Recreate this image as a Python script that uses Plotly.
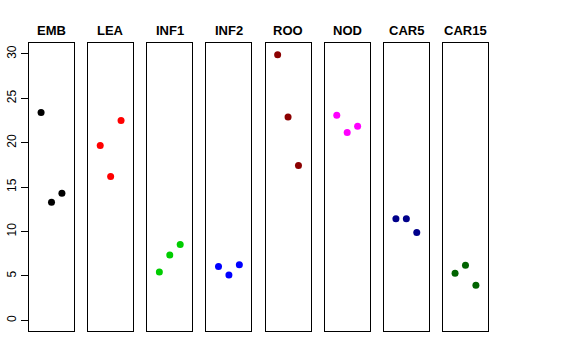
import plotly.graph_objects as go

groups = ["EMB", "LEA", "INF1", "INF2", "ROO", "NOD", "CAR5", "CAR15"]
x_pos = [1, 2, 3]
values = {
    "EMB":   [23.4, 13.3, 14.3],
    "LEA":   [19.7, 16.2, 22.5],
    "INF1":  [5.45, 7.35, 8.55],
    "INF2":  [6.05, 5.1, 6.25],
    "ROO":   [29.9, 22.9, 17.45],
    "NOD":   [23.1, 21.15, 21.85],
    "CAR5":  [11.45, 11.45, 9.9],
    "CAR15": [5.3, 6.2, 3.95],
}
colors = ["#000000", "#FF0000", "#00CD00", "#0000FF", "#8B0000", "#FF00FF", "#00008B", "#006400"]
y_ticks = [0, 5, 10, 15, 20, 25, 30]

W, H = 576, 360
x0_px = 29.0
panel_w = 45.0
step = 59.14
top_px, bot_px = 43.3, 331.0
ydom = [(H - bot_px) / H, (H - top_px) / H]

fig = go.Figure()
for i, g in enumerate(groups):
    idx = "" if i == 0 else str(i + 1)
    left = x0_px + step * i
    dom = [left / W, (left + panel_w) / W]
    fig.add_trace(go.Scatter(
        x=x_pos, y=values[g], mode="markers",
        marker=dict(color=colors[i], size=7, line=dict(width=0)),
        xaxis="x" + idx, yaxis="y" + idx, showlegend=False,
        hoverinfo="skip"))
    fig.update_layout(**{
        "xaxis" + idx: dict(domain=dom, range=[-0.16, 4.16], showline=True, mirror=True,
                            linecolor="black", linewidth=1, showgrid=False, zeroline=False,
                            showticklabels=False, ticks="", anchor="y" + idx, automargin=False),
        "yaxis" + idx: dict(domain=ydom, range=[-1.2, 31.2], showline=True, mirror=True,
                            linecolor="black", linewidth=1, showgrid=False, zeroline=False,
                            anchor="x" + idx, automargin=False,
                            **({} if i == 0 else {"matches": "y", "showticklabels": False, "ticks": ""})),
    })
    fig.add_annotation(x=(dom[0] + dom[1]) / 2, xref="paper", xanchor="center",
                       y=(H - 30.0) / H, yref="paper", yanchor="middle",
                       text="<b>%s</b>" % g, showarrow=False,
                       font=dict(size=13, color="black", family="Liberation Sans, Arial, sans-serif"))

fig.update_layout(yaxis=dict(tickvals=y_ticks, ticks="outside", ticklen=7, tickcolor="black",
                             tickangle=-90, tickfont=dict(size=12, color="black")))
fig.update_layout(width=W, height=H, margin=dict(l=0, r=0, t=0, b=0, autoexpand=False),
                  paper_bgcolor="white", plot_bgcolor="white", hovermode=False,
                  font=dict(family="Liberation Sans, Arial, sans-serif", color="black"))
fig.write_html("out.html", config={"displayModeBar": False},
               post_script="document.body.style.margin='0';")
